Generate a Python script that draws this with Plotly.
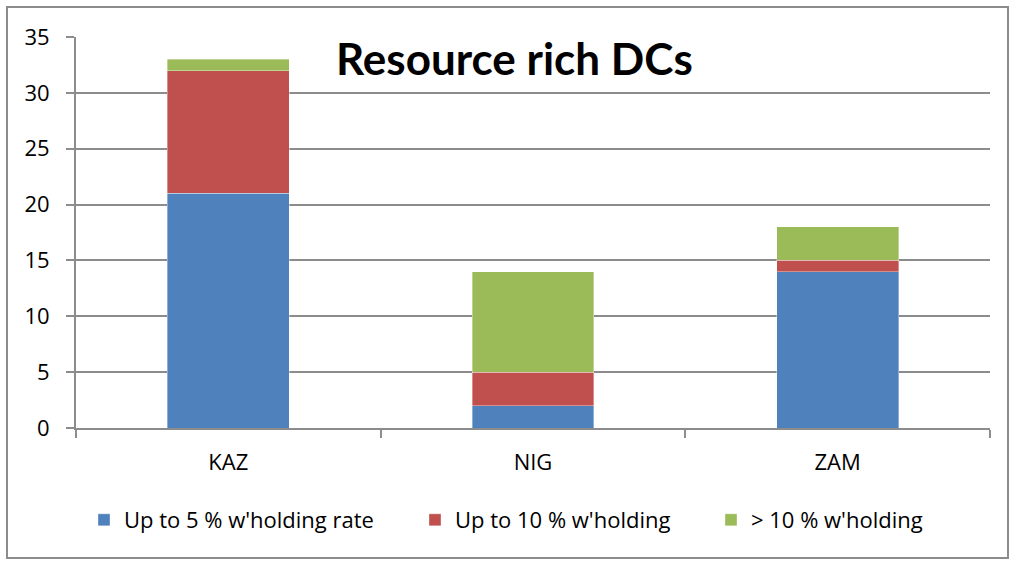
import plotly.graph_objects as go

categories = ["KAZ", "NIG", "ZAM"]
up_to_5 = [21, 2, 14]
up_to_10 = [11, 3, 1]
over_10 = [1, 9, 3]

series_names = ["Up to 5 % w'holding rate", "Up to 10 % w'holding", "> 10 % w'holding"]
series_colors = ["#4F81BD", "#C0504D", "#9BBB59"]
y_ticks = [0, 5, 10, 15, 20, 25, 30, 35]

TITLE_FONT = "Lato, 'Open Sans', Arial, sans-serif"
FONT = "'Open Sans', Lato, Arial, sans-serif"

# Plot area: x 76..990 px, y 37..428 px
L, R, T, B = 76, 990, 37, 428
W, H = R - L, B - T

def px_x(p):
    return (p - L) / W

def px_y(p):
    return (B - p) / H

legend_ids = ["legend", "legend2", "legend3"]
legend_left = [84, 415, 711]

fig = go.Figure()
for name, vals, col, lid in zip(series_names, [up_to_5, up_to_10, over_10], series_colors, legend_ids):
    fig.add_trace(go.Bar(
        x=categories, y=vals, name=name, legend=lid,
        marker=dict(color=col, line=dict(width=0.6, color="rgba(255,255,255,0.6)")),
    ))

legend_layout = {}
for lid, left in zip(legend_ids, legend_left):
    legend_layout[lid] = dict(
        orientation="h", x=px_x(left), xanchor="left",
        y=px_y(520), yanchor="middle",
        font=dict(family=FONT, size=22), itemwidth=30,
        bgcolor="rgba(0,0,0,0)",
    )

fig.update_layout(
    barmode="stack",
    bargap=0.6,
    width=1018, height=561,
    margin=dict(l=L, r=1018 - R, t=T, b=561 - B, autoexpand=False),
    paper_bgcolor="white", plot_bgcolor="white",
    font=dict(family=FONT, size=22, color="#000000"),
    showlegend=True,
    xaxis=dict(
        showgrid=False, showline=True, linecolor="#8c8c8c", linewidth=2,
        ticks="outside", tickson="boundaries", ticklen=8, tickcolor="#8c8c8c", tickwidth=2,
        tickfont=dict(family=FONT, size=22), ticklabelstandoff=14, fixedrange=True,
    ),
    yaxis=dict(
        range=[0, 35], tickvals=y_ticks,
        showgrid=True, gridcolor="#8c8c8c", gridwidth=2,
        showline=True, linecolor="#8c8c8c", linewidth=2,
        ticks="outside", ticklen=8, tickcolor="#8c8c8c", tickwidth=2,
        tickfont=dict(family=FONT, size=22), ticklabelstandoff=12, zeroline=False, fixedrange=True,
    ),
    annotations=[dict(
        text="<b>Resource rich DCs</b>", xref="paper", yref="paper",
        x=px_x(514), y=px_y(58), xanchor="center", yanchor="middle",
        showarrow=False, font=dict(family=TITLE_FONT, size=44, color="#000000"),
    )],
    shapes=[dict(
        type="rect", xref="paper", yref="paper",
        x0=px_x(7), x1=px_x(1008), y0=px_y(558), y1=px_y(7),
        line=dict(color="#8c8c8c", width=2), fillcolor="rgba(0,0,0,0)", layer="below",
    )],
    **legend_layout,
)

fig.write_html("out.html")
